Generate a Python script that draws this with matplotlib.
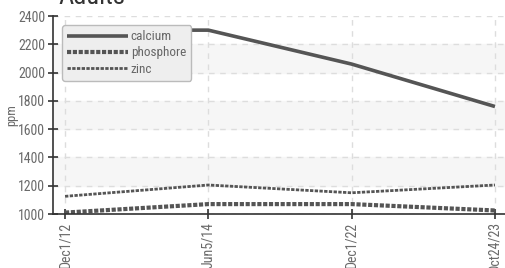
import matplotlib.pyplot as plt
from matplotlib import font_manager

names = {f.name for f in font_manager.fontManager.ttflist}
for cand in ["Roboto Condensed", "Barlow Condensed", "Asap Condensed", "DejaVu Sans"]:
    if cand in names:
        break
plt.rcParams["font.family"] = [cand, "DejaVu Sans"]
if cand == "DejaVu Sans":
    plt.rcParams["font.stretch"] = "condensed"

dates = ["Dec1/12", "Jun5/14", "Dec1/22", "Oct24/23"]
calcium = [2300, 2300, 2060, 1760]
phosphore = [1010, 1070, 1070, 1025]
zinc = [1125, 1205, 1150, 1205]

fig = plt.figure(figsize=(5.06, 2.68), dpi=100)
ax = fig.add_axes([53 / 506, 54 / 268, 454 / 506, 198 / 268])

# alternating bands
for lo in [1200, 1600, 2000]:
    ax.axhspan(lo, lo + 200, color="#f6f6f6", zorder=0)

x = range(len(dates))
line_col = "#555555"
ax.plot(x, calcium, color=line_col, lw=2.6, label="calcium", solid_capstyle="butt")
ax.plot(x, phosphore, color=line_col, lw=3.0, dashes=(1.0, 0.4), label="phosphore")
ax.plot(x, zinc, color=line_col, lw=2.0, dashes=(1.2, 0.5), label="zinc")

ax.set_xlim(-0.084, 3.084)
ax.set_ylim(1000, 2400)
ax.set_xticks(list(x))
ax.set_xticklabels(dates, rotation=90)
ax.set_yticks(range(1000, 2401, 200))
ax.grid(True, color="#dddddd", ls=(0, (4, 4)), lw=1)
ax.set_axisbelow(True)

for s in ["top", "right"]:
    ax.spines[s].set_visible(False)
for s in ["left", "bottom"]:
    ax.spines[s].set_color("#333333")
    ax.spines[s].set_linewidth(1.2)
ax.tick_params(direction="inout", length=7, width=1.2, color="#333333",
               labelcolor="#6a6a6a", labelsize=10, pad=2)
ax.set_ylabel("ppm", color="#666666", fontsize=9, labelpad=0)

fig.text(58 / 506, 1 - 4 / 268, "Adults", fontsize=19, color="#333333",
         va="baseline", ha="left")

leg = ax.legend(loc="upper left", bbox_to_anchor=(0.02, 0.955), borderaxespad=0,
                fontsize=9.5, handlelength=4.6, handletextpad=0.2,
                labelspacing=0.25, borderpad=0.4, fancybox=True, framealpha=1,
                labelcolor="#666666")
leg.set_zorder(10)
leg.get_frame().set_facecolor("#eeeeee")
leg.get_frame().set_edgecolor("#bbbbbb")

fig.savefig("out.png", dpi=100)
